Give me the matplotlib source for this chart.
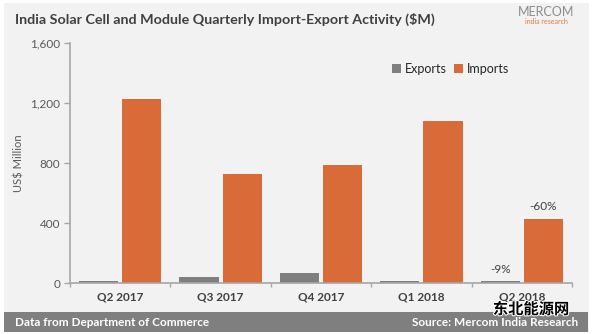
import matplotlib
matplotlib.use("Agg")
import matplotlib.pyplot as plt
from matplotlib.patches import Rectangle
import matplotlib.patheffects as pe
import numpy as np

# data
quarters = ["Q2 2017", "Q3 2017", "Q4 2017", "Q1 2018", "Q2 2018"]
exports = [11, 40, 65, 14, 13]
imports = [1225, 727, 787, 1080, 430]
export_note = "-9%"
import_note = "-60%"
yticks = [0, 400, 800, 1200, 1600]

GRAY = "#7f7f7f"
ORANGE = "#d96b38"
BG = "#f2f2f2"

plt.rcParams["font.family"] = ["Lato", "DejaVu Sans"]

fig = plt.figure(figsize=(5.93, 3.34), dpi=100)
fig.patch.set_facecolor("white")

W, H = 593, 334
def fx(px):
    return px / W
def fy(py):
    return 1 - py / H

# light panel and bottom band
fig.patches.append(Rectangle((fx(4), fy(332)), fx(589) - fx(4), fy(3) - fy(332),
                             transform=fig.transFigure, facecolor=BG, edgecolor="none", zorder=-2))
fig.patches.append(Rectangle((fx(4), fy(332)), fx(588) - fx(4), fy(312) - fy(332),
                             transform=fig.transFigure, facecolor=GRAY, edgecolor="none", zorder=-1))

ax = fig.add_axes([fx(70), fy(283), fx(572) - fx(70), fy(43) - fy(283)])
ax.set_zorder(2)
ax.set_facecolor("none")

x = np.arange(len(quarters))
w = 0.39
ax.bar(x - 0.215, exports, w, color=GRAY, label="Exports", zorder=2)
ax.bar(x + 0.215, imports, w, color=ORANGE, label="Imports", zorder=2)

ax.set_xlim(-0.5, len(quarters) - 0.5)
ax.set_ylim(0, 1600)
ax.set_yticks(yticks)
ax.set_yticklabels([f"{v:,}" for v in yticks], color="#595959", fontsize=8.5)
ax.set_xticks(x)
ax.set_xticklabels(quarters, fontsize=8.5, fontweight="bold", color="#404040")
ax.set_xticks(np.arange(-0.5, len(quarters)), minor=True)
ax.tick_params(axis="x", which="major", length=0, pad=6)
ax.tick_params(axis="x", which="minor", length=3, color="#a6a6a6", width=1)
ax.tick_params(axis="y", length=4, color="#a6a6a6", width=1, pad=3)

for s in ["top", "right"]:
    ax.spines[s].set_visible(False)
for s in ["left", "bottom"]:
    ax.spines[s].set_color("#a6a6a6")
    ax.spines[s].set_linewidth(1.2)

ax.set_ylabel("US$ Million", color="#595959", fontsize=8, labelpad=4)

ax.text(x[-1] - 0.215, exports[-1] + 40, export_note, ha="center", va="bottom",
        fontsize=8.5, color="#404040")
ax.text(x[-1] + 0.215, imports[-1] + 40, import_note, ha="center", va="bottom",
        fontsize=8.5, color="#404040")

ax.legend(loc="upper left", bbox_to_anchor=(0.62, 0.965), ncol=2, frameon=False,
          fontsize=9, handlelength=0.7, handleheight=0.7, handletextpad=0.3,
          columnspacing=0.6, labelcolor="#262626")

fig.text(fx(15), fy(19), "India Solar Cell and Module Quarterly Import-Export Activity ($M)",
         fontsize=10.3, fontweight="bold", color="#404040", va="center", ha="left")
fig.text(fx(546), fy(12), "MERCOM", fontsize=9, color="#8c8c8c", ha="center", va="center")
fig.text(fx(546), fy(22), "india research", fontsize=5, color="#e07a3a", ha="center", va="center")

fig.text(fx(15), fy(322), "Data from Department of Commerce", fontsize=8.5,
         fontweight="bold", color="white", va="center", ha="left")
fig.text(fx(578), fy(322), "Source: Mercom India Research", fontsize=8.5,
         fontweight="bold", color="white", va="center", ha="right")

fig.text(fx(531), fy(309), "东北能源网", fontsize=11, fontweight="bold", color="black",
         family=["Noto Sans CJK SC", "DejaVu Sans"], ha="center", va="center",
         path_effects=[pe.withStroke(linewidth=1.5, foreground="white")])

fig.savefig("out.png", dpi=100, facecolor=fig.get_facecolor())
